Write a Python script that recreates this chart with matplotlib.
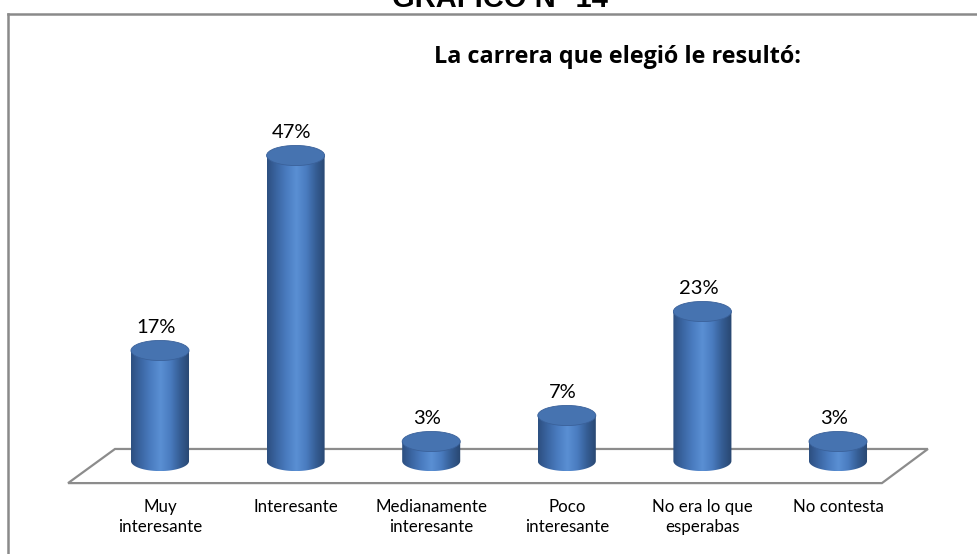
import matplotlib.pyplot as plt
from matplotlib.patches import Ellipse, Polygon, PathPatch
from matplotlib.path import Path
from matplotlib.colors import LinearSegmentedColormap
from matplotlib.lines import Line2D
import numpy as np

categories = ['Muy\ninteresante', 'Interesante', 'Medianamente\ninteresante',
              'Poco\ninteresante', 'No era lo que\nesperabas', 'No contesta']
values = [17, 47, 3, 7, 23, 3]
value_labels = ['17%', '47%', '3%', '7%', '23%', '3%']

title = 'GRÁFICO N° 14'
subtitle = 'La carrera que elegió le resultó:'

plt.rcParams['font.family'] = ['Lato', 'DejaVu Sans']

W, H = 977, 554
fig = plt.figure(figsize=(W / 100, H / 100), dpi=100)
fig.patch.set_facecolor('white')

# outer frame (left and top only, the rest is off the picture)
fig.add_artist(Line2D([8 / W, 8 / W], [0, 1 - 14 / H], color='#8a8a8a', lw=1.8))
fig.add_artist(Line2D([8 / W, 1], [1 - 14 / H, 1 - 14 / H], color='#8a8a8a', lw=1.8))

# title is cut by the top edge, as in the original
fig.text(500 / W, 1 - 7 / H, title, ha='center', va='baseline',
         fontsize=21, fontweight='bold', family=['Liberation Sans', 'DejaVu Sans'])
fig.text(617 / W, 1 - 57 / H, subtitle, ha='center', va='center',
         fontsize=16.8, fontweight='bold', family=['Open Sans', 'DejaVu Sans'])

ax = fig.add_axes([92.2 / W, 54 / H, 813.6 / W, 442 / H])
ax.set_xlim(-0.5, 5.5)
ax.set_ylim(-6, 62)
ax.axis('off')

# floor
floor = Polygon([(-0.678, -3.4), (5.324, -3.4), (5.663, 1.85), (-0.332, 1.85)],
                closed=True, facecolor='none', edgecolor='#8c8c8c', lw=1.6,
                zorder=1, clip_on=False)
ax.add_patch(floor)

body_cmap = LinearSegmentedColormap.from_list(
    'body', ['#2d4f80', '#3b66a3', '#4a7cc0', '#5a8fd3', '#4a7cc0', '#355d94', '#28466f'])

bw = 0.428
eh = 1.55
for i, v in enumerate(values):
    x0, x1 = i - bw / 2, i + bw / 2
    t = np.linspace(0, -np.pi, 60)
    arc = np.column_stack([i + bw / 2 * np.cos(t), eh * np.sin(t)])
    verts = np.vstack([[x0, v], [x1, v], arc, [[x0, v]]])
    body = PathPatch(Path(verts), facecolor='none', edgecolor='none', zorder=2)
    ax.add_patch(body)
    im = ax.imshow(np.linspace(0, 1, 256).reshape(1, -1), cmap=body_cmap,
                   extent=[x0, x1, -eh, v], aspect='auto', zorder=2,
                   interpolation='bicubic')
    im.set_clip_path(body)
    top = Ellipse((i, v), bw, 2 * eh, facecolor='#4673b0', edgecolor='#3a619a',
                  lw=0.6, zorder=3)
    ax.add_patch(top)
    ax.text(i - 0.03, v + eh + 0.7, value_labels[i], ha='center', va='bottom',
            fontsize=14.5, color='black', zorder=4)
    ax.text(i, -5.8, categories[i], ha='center', va='top', fontsize=12.2,
            linespacing=1.33, color='black')

ax.set_xlim(-0.5, 5.5)
ax.set_ylim(-6, 62)

fig.savefig('out.png', dpi=100)
